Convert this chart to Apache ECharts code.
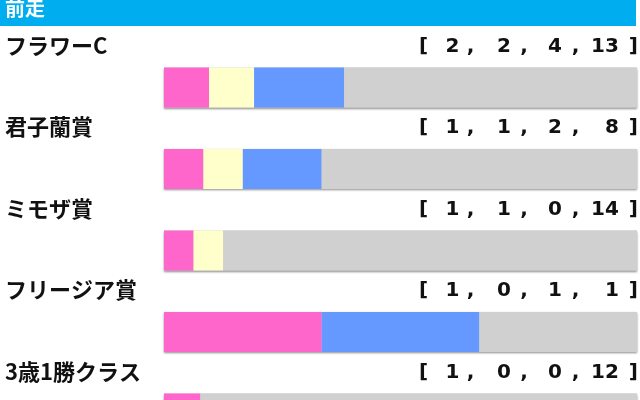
<!DOCTYPE html>
<html>
<head>
<meta charset="utf-8">
<script src="https://cdn.jsdelivr.net/npm/echarts@6/dist/echarts.min.js"></script>
<style>html,body{margin:0;padding:0;background:#fff;}#c{width:640px;height:400px;}</style>
</head>
<body>
<div id="c"></div>
<script>
const title = '前走';
const categories = ['フラワーC', '君子蘭賞', 'ミモザ賞', 'フリージア賞', '3歳1勝クラス'];
const first  = [2, 1, 1, 1, 1];
const second = [2, 1, 1, 0, 0];
const third  = [4, 2, 0, 1, 0];
const other  = [13, 8, 14, 1, 12];

const rows = [first, second, third, other];
const totals = categories.map((_, i) => rows.reduce((s, r) => s + r[i], 0));
const pct = arr => arr.map((v, i) => v / totals[i] * 100);
const pad2 = n => (n < 10 ? '\u2007' : '') + n;

function bracket(i) {
  const a = rows.map(r => pad2(r[i]));
  return '{t|[}{s0| }{t|' + a[0] + '}{s1| }{t|,}{s2| }{t|' + a[1] + '}{s3| }{t|,}{s4| }{t|' +
    a[2] + '}{s5| }{t|,}{s6| }{t|' + a[3] + '}{s7| }{t|]}';
}

const txt = {fontFamily: 'DejaVu Sans', fontWeight: 'bold', fontSize: 20, color: '#111'};
const spacers = [3.55, 7.24, 8.82, 9.24, 6.32, 9.74, 11.78, 10.01];
const rich = {t: txt};
spacers.forEach((w, k) => { rich['s' + k] = Object.assign({}, txt, {width: w}); });

const colors = ['#FF66CC', '#FFFFCC', '#6699FF', '#D0D0D0'];

const chart = echarts.init(document.getElementById('c'), null, {renderer: 'canvas'});
chart.setOption({
  animation: false,
  title: {
    text: title, left: 5, top: -2, padding: 0,
    textStyle: {color: '#fff', fontSize: 20, fontWeight: 'bold', fontFamily: 'Noto Sans CJK JP'}
  },
  graphic: [{
    type: 'rect', z: -10, shape: {x: 0, y: 0, width: 636, height: 26},
    style: {fill: '#00AEEF'}
  }],
  grid: {left: 164, right: 3, top: 46.75, height: 407.5, outerBoundsMode: 'none', containLabel: false},
  xAxis: {type: 'value', min: 0, max: 100, show: false},
  yAxis: {type: 'category', inverse: true, data: categories, show: false},
  series: rows.map((r, k) => ({
    type: 'bar',
    stack: 'all',
    barWidth: 40,
    data: pct(r),
    itemStyle: {color: colors[k]},
    showBackground: k === 0,
    backgroundStyle: {color: '#D0D0D0', shadowBlur: 2, shadowColor: 'rgba(0,0,0,0.45)', shadowOffsetY: 1},
    label: k === 0 ? {
      show: true, position: [-159, -22], align: 'left', verticalAlign: 'middle',
      formatter: p => categories[p.dataIndex],
      fontFamily: 'Noto Sans CJK JP', fontWeight: 'bold', fontSize: 22, color: '#111'
    } : k === 3 ? {
      show: true, position: ['100%', -21], align: 'right', verticalAlign: 'middle',
      offset: [1, 0],
      formatter: p => bracket(p.dataIndex),
      rich: rich
    } : {show: false}
  }))
});
</script>
</body>
</html>
